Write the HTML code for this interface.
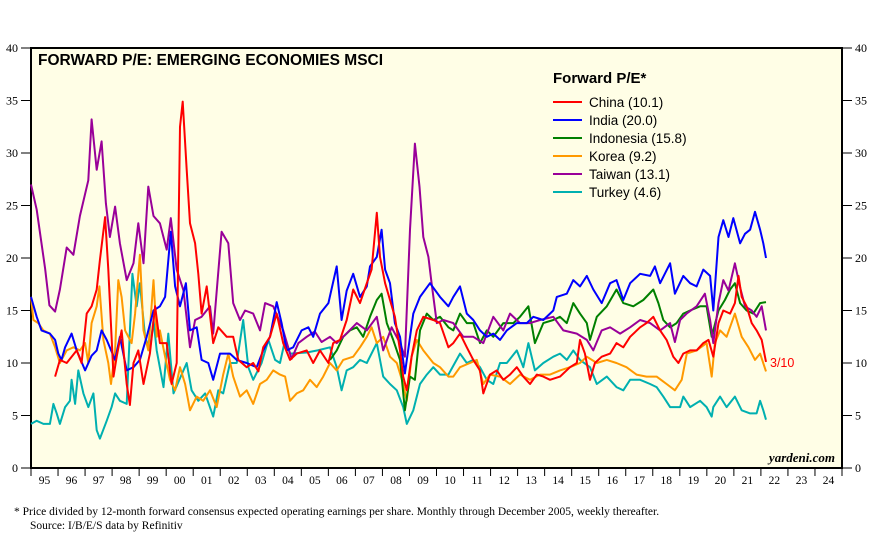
<!DOCTYPE html>
<html><head><meta charset="utf-8"><style>
body{margin:0;background:#fff;width:871px;height:534px;overflow:hidden}
svg{display:block}
</style></head><body>
<svg id="chart" width="871" height="534" xmlns="http://www.w3.org/2000/svg">
<rect x="31" y="48" width="811" height="420" fill="#FFFEE6" stroke="#000" stroke-width="2"/>
<g id="axes"></g>
<g id="series"></g>
<text x="38" y="65" font-family="Liberation Sans, sans-serif" font-weight="bold" font-size="15.5">FORWARD P/E: EMERGING ECONOMIES MSCI</text>
<g font-family="Liberation Sans, sans-serif">
<text x="553" y="83" font-weight="bold" font-size="15">Forward P/E*</text>
<g id="legend-items"></g>
</g>
<text x="770" y="367" fill="#f00" font-family="Liberation Sans, sans-serif" font-size="12.5">3/10</text>
<text x="835" y="462" text-anchor="end" font-family="Liberation Serif, serif" font-style="italic" font-weight="bold" font-size="13">yardeni.com</text>
<text x="14" y="515" font-family="Liberation Serif, serif" font-size="11.5">*  Price divided by 12-month forward consensus expected operating earnings per share. Monthly through December 2005, weekly thereafter.</text>
<text x="30" y="529" font-family="Liberation Serif, serif" font-size="11.5">Source: I/B/E/S data by Refinitiv</text>
</svg>
<script>
const yTicks=[0,5,10,15,20,25,30,35,40];
const yearLabels=["95","96","97","98","99","00","01","02","03","04","05","06","07","08","09","10","11","12","13","14","15","16","17","18","19","20","21","22","23","24"];
const seriesNames=["China","India","Indonesia","Korea","Taiwan","Turkey"];
const seriesLatest=["10.1","20.0","15.8","9.2","13.1","4.6"];
const seriesColors=["#ff0000","#0000ff","#008000","#ff9900","#990099","#00b0b0"];

const chinaT=[.89,1.07,1.32,1.69,1.87,2.06,2.24,2.43,2.55,2.74,2.86,3.05,3.17,3.35,3.54,3.66,3.79,3.97,4.16,4.4,4.59,4.77,5.02,5.2,5.39,5.51,5.61,5.76,5.88,6.07,6.19,6.31,6.5,6.74,6.93,7.24,7.48,7.67,7.98,8.22,8.41,8.59,8.84,9.09,9.33,9.58,9.83,10.2,10.44,10.69,11.0,11.18,11.43,11.68,11.92,12.17,12.42,12.6,12.79,12.91,13.1,13.28,13.46,13.65,13.77,13.9,14.08,14.27,14.51,14.88,15.13,15.44,
15.62,15.87,16.12,16.36,16.61,16.73,16.98,17.23,17.47,17.72,17.97,18.21,18.46,18.71,18.95,19.2,19.57,19.94,20.19,20.31,20.49,20.68,20.86,21.11,21.42,21.66,21.91,22.16,22.53,22.77,23.02,23.27,23.51,23.76,23.95,24.13,24.38,24.62,24.87,25.06,25.24,25.43,25.61,25.86,26.04,26.17,26.29,26.47,26.66,26.84,27.03,27.19];
const chinaV=[8.7,10.3,10,11.2,10,14.7,15.4,17,19.8,23.9,18.9,8.7,10.6,13.1,8.0,6.0,10,11.2,8.0,10.9,15.4,11.9,11.9,8,10,32.5,34.9,28.4,23.3,21.4,18.5,14.7,17.3,11.9,13.4,12.5,12.5,10.3,9.6,10,9.2,11.5,12.5,14.7,11.9,10.3,10.9,11.2,10,11.2,10,11.9,12.2,14.1,17,15.7,17.6,18.9,24.3,20.1,17.6,16,14.4,11.2,8.7,7.4,10.6,13.1,14.4,14.1,13.8,11.5,
11.9,12.8,11.5,10.3,9.3,7.1,8.9,9.3,8.4,8.9,9.6,8.7,8.0,8.9,8.7,8.4,8.7,9.6,10,12.2,10.9,8.4,10,10.6,10.9,11.9,11.5,12.5,13.4,13.8,14.4,13.1,12.2,10.6,10,10.9,11.2,11.2,11.9,12.2,10.6,13.8,15,14.7,15.7,18.3,16.3,15.4,13.8,13.1,12.2,10.1];

const indiaT=[0,.21,.39,.7,.89,1.01,1.13,1.26,1.5,1.69,2.0,2.24,2.43,2.61,2.8,3.11,3.29,3.54,3.79,4.03,4.28,4.53,4.77,4.96,5.17,5.33,5.51,5.73,5.88,6.13,6.31,6.56,6.74,6.99,7.36,7.61,7.98,8.35,8.59,8.84,9.09,9.27,9.46,9.7,10.01,10.26,10.44,10.69,11.0,11.31,11.49,11.68,11.92,12.17,12.42,12.54,12.79,12.97,13.1,13.28,13.46,13.65,13.83,14.14,14.39,14.76,15.13,15.44,
15.62,15.87,16.12,16.36,16.61,16.86,17.1,17.35,17.6,17.97,18.34,18.58,18.95,19.32,19.45,19.82,20.06,20.31,20.56,20.8,21.11,21.42,21.66,21.91,22.16,22.53,22.9,23.08,23.27,23.64,23.82,24.13,24.38,24.62,24.87,25.12,25.24,25.43,25.61,25.8,25.98,26.23,26.41,26.6,26.78,26.97,27.09,27.19];
const indiaV=[16.3,14.4,13.1,12.8,12.2,10.9,10.3,11.5,12.8,11.2,9.3,10.7,11.2,13.1,12.2,10.3,12.5,9.3,9.6,10.3,12.5,15,15.4,16.3,22.5,17.3,15.4,17.6,13.1,13.4,10.3,10,8.4,10.9,10.9,10.3,10,9.6,11.2,12.5,15.8,13.8,11.2,11.5,13.1,13.4,12.5,14.7,15.7,19.2,14.1,16.9,18.5,16.3,17.3,19.2,20.1,22.7,18.9,17.6,13.8,12.5,9.0,14.7,16.3,17.6,16.3,15.4,
16.3,17.3,14.7,14.1,13.1,12.5,12.8,12.2,13.1,13.8,13.8,14.4,14.1,15,16.3,16.6,17.9,17.3,18.3,17,15.7,17.6,17.9,16,17.6,18.5,18.3,19.2,17.6,19.5,16.6,18.3,17.6,17.3,18.9,18.3,15,22.0,23.6,22.0,23.8,21.4,22.3,22.7,24.4,22.7,21.4,20.0];

const indoT=[11.06,11.31,11.55,11.8,12.05,12.29,12.54,12.79,12.97,13.16,13.4,13.65,13.83,14.02,14.2,14.39,14.64,14.88,15.13,15.44,
15.62,15.87,16.12,16.36,16.61,16.86,17.1,17.47,17.84,18.09,18.4,18.64,18.95,19.32,19.57,19.82,20.06,20.31,20.56,20.68,20.93,21.3,21.66,21.91,22.28,22.65,23.02,23.21,23.39,23.64,23.88,24.13,24.38,24.75,24.99,25.18,25.43,25.67,25.86,26.04,26.23,26.47,26.72,26.97,27.19];
const indoV=[10.3,11.2,12.5,13.1,13.4,12.5,14.4,16,16.6,13.8,12.2,10.3,5.5,8.7,8.4,13.1,14.7,14.1,14.4,13.4,
13.1,14.7,13.8,13.8,11.9,13.1,12.5,13.8,13.8,14.4,15.4,11.9,13.8,14.1,14.4,13.8,15.7,14.7,13.8,12.2,14.4,15.4,17,15.7,15.4,16,17,15.7,14.1,13.4,13.8,14.7,15,15.4,15.4,12.5,15,16,17,17.6,15.7,15,14.7,15.7,15.8];

const koreaT=[0,.09,.27,.46,.7,.89,1.07,1.32,1.57,1.81,2.0,2.12,2.24,2.43,2.53,2.68,2.86,2.96,3.11,3.23,3.35,3.48,3.72,3.85,4.03,4.16,4.34,4.53,4.65,4.77,4.96,5.14,5.33,5.51,5.7,5.88,6.13,6.37,6.62,6.87,7.11,7.3,7.48,7.73,7.98,8.22,8.47,8.72,8.96,9.21,9.4,9.58,9.83,10.07,10.32,10.57,10.81,11.06,11.31,11.55,11.92,12.17,12.42,12.6,12.79,13.03,13.28,13.53,13.77,13.9,14.08,14.27,14.51,14.88,15.13,15.44,
15.62,15.87,16.24,16.49,16.73,16.98,17.35,17.72,18.09,18.46,18.83,19.2,19.57,19.94,20.31,20.56,20.93,21.3,21.66,22.03,22.4,22.77,23.14,23.51,23.82,24.07,24.26,24.62,24.99,25.18,25.3,25.49,25.73,26.04,26.29,26.54,26.78,26.97,27.19];
const koreaV=[16.3,14.1,13.8,13.1,12.8,11.5,10,11.2,11.5,11.2,11.9,10,13.8,15.4,17.3,12.2,10,8.0,11.2,17.9,16.3,13.1,11.9,14.7,20.3,13.1,11.2,17.9,12.5,13.1,10.6,8.4,7.4,9.6,8.0,5.5,6.8,6.4,7.4,5.8,8.9,10.9,8.7,6.8,7.4,6.1,8.0,8.4,9.3,8.9,8.7,6.4,7.1,7.4,8.4,7.7,8.7,10,9.3,10.3,10.6,11.5,12.5,13.4,11.9,12.5,10.6,10,8.0,6.4,10.6,12.2,11.2,10,9.6,8.7,
8.7,9.6,10,10.3,8.0,8.9,8.7,8,8.9,8.4,8.9,8.9,9.3,9.6,10,10.6,10,10.3,10,9.6,8.9,8.7,8.7,8.0,7.4,8.4,10.9,11.2,11.9,8.7,11.9,13.1,12.5,14.7,12.5,11.5,10.3,10.9,9.2];

const taiwanT=[0,.21,.39,.52,.68,.89,1.07,1.32,1.57,1.81,2.12,2.24,2.43,2.61,2.77,2.92,3.11,3.29,3.54,3.79,3.97,4.16,4.34,4.53,4.77,5.02,5.17,5.39,5.64,5.88,6.07,6.31,6.62,6.74,7.05,7.3,7.48,7.73,7.92,8.22,8.47,8.66,8.96,9.33,9.64,9.89,10.2,10.5,10.75,11.06,11.31,11.55,12.05,12.42,12.79,13.03,13.34,13.65,13.83,14.02,14.2,14.37,14.51,14.7,14.82,15.01,15.25,15.62,15.99,16.36,16.73,17.1,17.47,17.72,18.09,18.46,18.83,19.32,19.69,20.19,20.56,20.8,21.11,21.42,21.79,22.16,22.53,22.9,23.27,23.64,23.82,24.01,24.25,24.62,24.93,25.12,25.24,25.43,25.61,25.8,26.04,26.23,26.41,26.66,26.84,27.03,27.19];
const taiwanV=[27,24.6,21.4,19,15.5,14.9,17,21,20.3,24,27.4,33.2,28.4,31.1,25.2,22,24.9,21.4,17.9,19.5,23.3,19.5,26.8,24,23.3,20.8,23.8,18.9,16.9,11.5,14.1,14.4,15.4,12.8,22.5,21.4,15.7,14.1,15,14.7,13.1,15.7,15.4,13.1,10.4,11.9,12.5,13,12,12.5,11.9,12.5,13.8,13.1,14.4,11.2,13.4,11.9,10.6,22.7,30.9,26.8,22,20.1,17.6,13.8,14.1,13.8,12.5,12.5,11.9,14.4,13.1,14.7,13.8,13.8,14.1,14.4,13.1,12.8,12.2,11.2,13.1,13.4,12.8,13.4,14.1,13.8,13.1,13.8,12.0,14.1,14.7,15.4,16.6,14.1,11.9,15.7,17.9,16.9,19.5,17.2,15.4,15,14.4,15.4,13.1];

const turkeyT=[0,.21,.46,.7,.83,.95,1.07,1.26,1.44,1.5,1.63,1.75,1.94,2.12,2.31,2.43,2.55,2.8,2.98,3.11,3.29,3.54,3.75,3.91,4.03,4.22,4.4,4.53,4.65,4.9,5.08,5.27,5.57,5.76,5.94,6.19,6.44,6.74,6.93,7.11,7.36,7.61,7.85,8.04,8.22,8.53,8.78,9.03,9.21,9.4,9.58,10.2,10.6,11.06,11.31,11.49,11.68,11.92,12.17,12.42,12.79,13.03,13.28,13.53,13.77,13.9,14.14,14.39,14.64,14.88,15.13,15.44,
15.87,16.12,16.36,16.61,16.86,17.1,17.35,17.6,17.97,18.21,18.4,18.64,18.95,19.32,19.57,19.82,20.06,20.31,20.68,20.93,21.3,21.66,21.91,22.16,22.53,22.9,23.14,23.39,23.64,24.01,24.13,24.38,24.75,24.99,25.18,25.24,25.49,25.73,26.04,26.29,26.6,26.84,26.97,27.09,27.19];
const turkeyV=[4.2,4.5,4.2,4.2,6.1,5.2,4.2,5.8,6.4,8.4,6.1,9.3,7.1,5.8,7.1,3.6,2.8,4.5,5.8,7.1,6.4,6.1,18.5,15.4,17.6,12.5,11.2,14.1,11.2,7.7,12.8,7.1,8.9,10,7.4,6.4,7.1,4.9,7.4,7.1,10,10,14.1,9.6,8.4,10,12.2,10.3,10,12.2,10.9,11.0,11.2,11.5,9.6,7.4,9.3,9.6,10.3,10,11.9,8.7,8,7.4,5.8,4.2,5.5,8,8.9,9.6,8.9,8.9,
10.9,10,10.3,9.6,8.4,8,10,10,11.2,9.6,11.9,9.3,10,10.6,10.9,10.3,11.2,10.3,9.6,8,8.7,7.7,7.4,8.4,8.4,8.0,7.7,6.8,5.8,5.8,6.8,5.8,6.4,5.8,4.9,5.8,6.8,5.8,6.8,5.5,5.2,5.2,6.4,5.5,4.6];

const X0=31,X1=842,Y0=468,Y1=48,NYEARS=30,YMAX=40;
function xScale(t){return X0+t/NYEARS*(X1-X0);}
function yScale(v){return Y0-v/YMAX*(Y0-Y1);}
const NS="http://www.w3.org/2000/svg";
function mk(tag,attrs,parent){const e=document.createElementNS(NS,tag);for(const k in attrs)e.setAttribute(k,attrs[k]);parent.appendChild(e);return e;}
const axes=document.getElementById('axes');
yTicks.forEach(v=>{
  const y=yScale(v);
  const l=mk('line',{x1:21,x2:X0,y1:y,y2:y,stroke:'#000','stroke-width':1},axes);
  
  
  const r=mk('line',{x1:X1,x2:X1+10,y1:y,y2:y,stroke:'#000','stroke-width':1},axes);
  
  
  const tl=mk('text',{x:18,y:y+4,'text-anchor':'end','font-family':'Liberation Serif, serif','font-size':12},axes);
  tl.textContent=v;
  
  
  const tr=mk('text',{x:X1+13,y:y+4,'font-family':'Liberation Serif, serif','font-size':12},axes);
  tr.textContent=v;
  
  
});
yearLabels.forEach((lab,i)=>{
  const x=xScale(i);
  const t=mk('line',{x1:x,x2:x,y1:Y0,y2:Y0+8,stroke:'#000','stroke-width':1},axes);
  
  
  const tx=mk('text',{x:xScale(i+0.5),y:Y0+16,'text-anchor':'middle','font-family':'Liberation Serif, serif','font-size':11.5},axes);
  tx.textContent=lab;
  
  
});
const xe=mk('line',{x1:X1,x2:X1,y1:Y0,y2:Y0+8,stroke:'#000','stroke-width':1},axes);



const allT=[chinaT,indiaT,indoT,koreaT,taiwanT,turkeyT];
const allV=[chinaV,indiaV,indoV,koreaV,taiwanV,turkeyV];
const order=[5,3,2,4,1,0];
const sg=document.getElementById('series');
order.forEach(i=>{
  const T=allT[i],V=allV[i];
  const n=Math.min(T.length,V.length);
  let d='';
  for(let k=0;k<n;k++)d+=(k?'L':'M')+xScale(T[k]).toFixed(1)+','+yScale(V[k]).toFixed(1);
  const p=mk('path',{d:d,fill:'none',stroke:seriesColors[i],'stroke-width':2,'stroke-linejoin':'round'},sg);
  
  
});
const lg=document.getElementById('legend-items');
seriesNames.forEach((nm,i)=>{
  const y=103+i*18;
  const l=mk('line',{x1:553,x2:582,y1:y-1,y2:y-1,stroke:seriesColors[i],'stroke-width':2},lg);
  
  
  const t=mk('text',{x:589,y:y+4,'font-size':13.5,'font-family':'Liberation Sans, sans-serif'},lg);
  t.textContent=nm+' ('+seriesLatest[i]+')';
  
  
});
</script>
</body></html>
